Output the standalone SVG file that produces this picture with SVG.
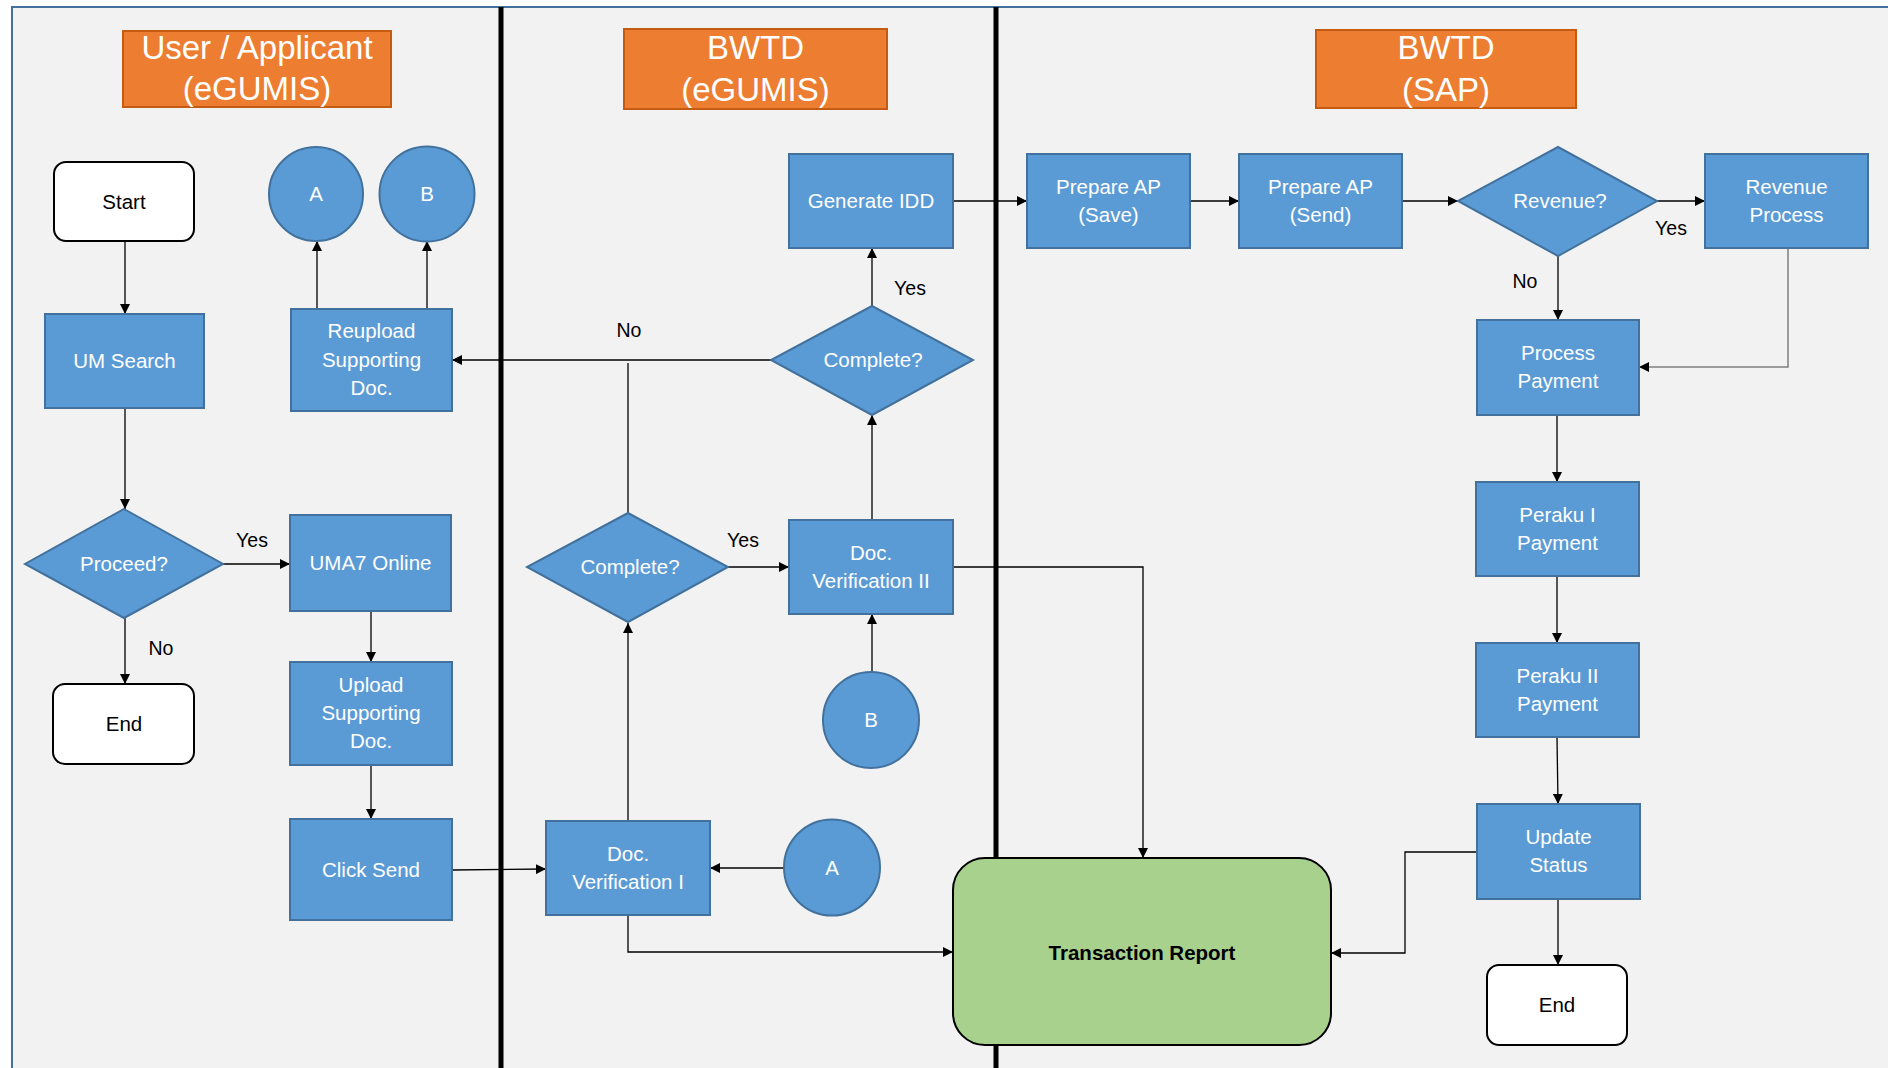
<svg xmlns="http://www.w3.org/2000/svg" width="1888" height="1068" viewBox="0 0 1888 1068">
<style>
.bg{fill:#F2F2F2;stroke:#41719C;stroke-width:2}
.lane{stroke:#000;stroke-width:5}
.hdr{fill:#ED7D31;stroke:#C55A11;stroke-width:2}
.hdrt{font-family:"Liberation Sans",Arial,sans-serif;font-size:33px;fill:#fff;text-anchor:middle}
.box{fill:#5B9BD5;stroke:#41719C;stroke-width:2}
.term{fill:#fff;stroke:#000;stroke-width:2}
.t{font-family:"Liberation Sans",Arial,sans-serif;font-size:20.5px;fill:#fff;text-anchor:middle}
.tk{font-family:"Liberation Sans",Arial,sans-serif;font-size:20.5px;fill:#000;text-anchor:middle}
.lbl{font-family:"Liberation Sans",Arial,sans-serif;font-size:19.5px;fill:#000;text-anchor:middle}
.c{fill:none;stroke:#000;stroke-width:1.3;marker-end:url(#ah)}
.cn{fill:none;stroke:#000;stroke-width:1.3}
.cg{fill:none;stroke:#808080;stroke-width:1.5;marker-end:url(#ah)}
</style>
<defs>
<marker id="ah" viewBox="0 0 10 10" refX="10" refY="5" markerWidth="10" markerHeight="10" orient="auto" markerUnits="userSpaceOnUse"><path d="M0,0 L10,5 L0,10 z" fill="#000"/></marker>
</defs>
<rect x="0" y="0" width="1888" height="1068" fill="#fff"/>
<rect class="bg" x="12" y="7" width="1890" height="1070"/>
<g id="lanes">
<line class="lane" x1="501" y1="7" x2="501" y2="1068"/>
<line class="lane" x1="996" y1="7" x2="996" y2="1068"/>
</g>
<g id="headers">
<g id="h1"><rect class="hdr" x="123" y="31" width="268" height="76"/><text class="hdrt" x="257" y="59">User / Applicant</text><text class="hdrt" x="257" y="100">(eGUMIS)</text></g>
<g id="h2"><rect class="hdr" x="624" y="29" width="263" height="80"/><text class="hdrt" x="755.5" y="59">BWTD</text><text class="hdrt" x="755.5" y="101">(eGUMIS)</text></g>
<g id="h3"><rect class="hdr" x="1316" y="30" width="260" height="78"/><text class="hdrt" x="1446" y="59">BWTD</text><text class="hdrt" x="1446" y="101">(SAP)</text></g>
</g>
<g id="connectors">
<path class="c" d="M125,241 V314"/>
<path class="c" d="M125,408 V509"/>
<path class="c" d="M223,564 H290"/>
<path class="c" d="M125,618 V684"/>
<path class="c" d="M371,611 V662"/>
<path class="c" d="M371,765 V819"/>
<path class="c" d="M452,870 L546,869"/>
<path class="c" d="M784,868 H710"/>
<path class="c" d="M628,821 V623"/>
<path class="c" d="M728,567 H789"/>
<path class="c" d="M872,673 V614"/>
<path class="c" d="M872,520 V415"/>
<path class="c" d="M872,306 V248"/>
<path class="c" d="M771,360 H452"/>
<path class="cn" d="M628,513 V363"/>
<path class="c" d="M317,309 V241"/>
<path class="c" d="M427,309 V241"/>
<path class="c" d="M953,201 H1027"/>
<path class="c" d="M1190,201 H1239"/>
<path class="c" d="M1402,201 H1458"/>
<path class="c" d="M1657,201 H1705"/>
<path class="c" d="M1558,256 V320"/>
<path class="cg" d="M1788,248 V367 H1639"/>
<path class="c" d="M1557,415 V482"/>
<path class="c" d="M1557,576 V643"/>
<path class="c" d="M1557,737 L1558,804"/>
<path class="c" d="M1558,899 V965"/>
<path class="c" d="M1477,852 H1405 V953 H1331"/>
<path class="c" d="M953,567 H1143 V858"/>
<path class="c" d="M628,915 V952 H953"/>
</g>
<g id="labels">
<text class="lbl" x="629" y="337">No</text>
<text class="lbl" x="910" y="295">Yes</text>
<text class="lbl" x="252" y="547">Yes</text>
<text class="lbl" x="161" y="655">No</text>
<text class="lbl" x="743" y="547">Yes</text>
<text class="lbl" x="1671" y="235">Yes</text>
<text class="lbl" x="1525" y="288">No</text>
</g>
<g id="start"><rect class="term" x="54" y="162" width="140" height="79" rx="12"/><text class="tk" x="124" y="209">Start</text></g>
<g id="umsearch"><rect class="box" x="45" y="314" width="159" height="94"/><text class="t" x="124.5" y="368">UM Search</text></g>
<g id="proceed"><polygon class="box" points="124,509 223,564 124,618 25,564"/><text class="t" x="124" y="571">Proceed?</text></g>
<g id="end1"><rect class="term" x="53" y="684" width="141" height="80" rx="12"/><text class="tk" x="124" y="731">End</text></g>
<g id="uma7"><rect class="box" x="290" y="515" width="161" height="96"/><text class="t" x="370.5" y="570">UMA7 Online</text></g>
<g id="upload"><rect class="box" x="290" y="662" width="162" height="103"/><text class="t" x="371" y="692">Upload</text><text class="t" x="371" y="720">Supporting</text><text class="t" x="371" y="748">Doc.</text></g>
<g id="clicksend"><rect class="box" x="290" y="819" width="162" height="101"/><text class="t" x="371" y="877">Click Send</text></g>
<g id="circleA1"><circle class="box" cx="316" cy="194" r="47"/><text class="t" x="316" y="201">A</text></g>
<g id="circleB1"><circle class="box" cx="427" cy="194" r="47.5"/><text class="t" x="427" y="201">B</text></g>
<g id="reupload"><rect class="box" x="291" y="309" width="161" height="102"/><text class="t" x="371.5" y="338">Reupload</text><text class="t" x="371.5" y="367">Supporting</text><text class="t" x="371.5" y="395">Doc.</text></g>
<g id="generateidd"><rect class="box" x="789" y="154" width="164" height="94"/><text class="t" x="871" y="208">Generate IDD</text></g>
<g id="complete1"><polygon class="box" points="872,306 973,360 872,415 771,360"/><text class="t" x="873" y="367">Complete?</text></g>
<g id="complete2"><polygon class="box" points="628,513 728,567 628,622 527,567"/><text class="t" x="630" y="574">Complete?</text></g>
<g id="docver2"><rect class="box" x="789" y="520" width="164" height="94"/><text class="t" x="871" y="560">Doc.</text><text class="t" x="871" y="588">Verification II</text></g>
<g id="circleB2"><circle class="box" cx="871" cy="720" r="48"/><text class="t" x="871" y="727">B</text></g>
<g id="docver1"><rect class="box" x="546" y="821" width="164" height="94"/><text class="t" x="628" y="861">Doc.</text><text class="t" x="628" y="889">Verification I</text></g>
<g id="circleA2"><circle class="box" cx="832" cy="867.5" r="48"/><text class="t" x="832" y="875">A</text></g>
<g id="prepsave"><rect class="box" x="1027" y="154" width="163" height="94"/><text class="t" x="1108.5" y="194">Prepare AP</text><text class="t" x="1108.5" y="222">(Save)</text></g>
<g id="prepsend"><rect class="box" x="1239" y="154" width="163" height="94"/><text class="t" x="1320.5" y="194">Prepare AP</text><text class="t" x="1320.5" y="222">(Send)</text></g>
<g id="revenue"><polygon class="box" points="1558,147 1657,201 1558,256 1458,201"/><text class="t" x="1560" y="208">Revenue?</text></g>
<g id="revproc"><rect class="box" x="1705" y="154" width="163" height="94"/><text class="t" x="1786.5" y="194">Revenue</text><text class="t" x="1786.5" y="222">Process</text></g>
<g id="procpay"><rect class="box" x="1477" y="320" width="162" height="95"/><text class="t" x="1558" y="360">Process</text><text class="t" x="1558" y="388">Payment</text></g>
<g id="peraku1"><rect class="box" x="1476" y="482" width="163" height="94"/><text class="t" x="1557.5" y="522">Peraku I</text><text class="t" x="1557.5" y="550">Payment</text></g>
<g id="peraku2"><rect class="box" x="1476" y="643" width="163" height="94"/><text class="t" x="1557.5" y="683">Peraku II</text><text class="t" x="1557.5" y="711">Payment</text></g>
<g id="updstatus"><rect class="box" x="1477" y="804" width="163" height="95"/><text class="t" x="1558.5" y="844">Update</text><text class="t" x="1558.5" y="872">Status</text></g>
<g id="end2"><rect class="term" x="1487" y="965" width="140" height="80" rx="12"/><text class="tk" x="1557" y="1012">End</text></g>
<g id="report"><rect x="953" y="858" width="378" height="187" rx="32" fill="#A9D18E" stroke="#000" stroke-width="2"/><text x="1142" y="960" font-family="'Liberation Sans',Arial,sans-serif" font-size="20.5px" font-weight="bold" fill="#000" text-anchor="middle">Transaction Report</text></g>
</svg>
